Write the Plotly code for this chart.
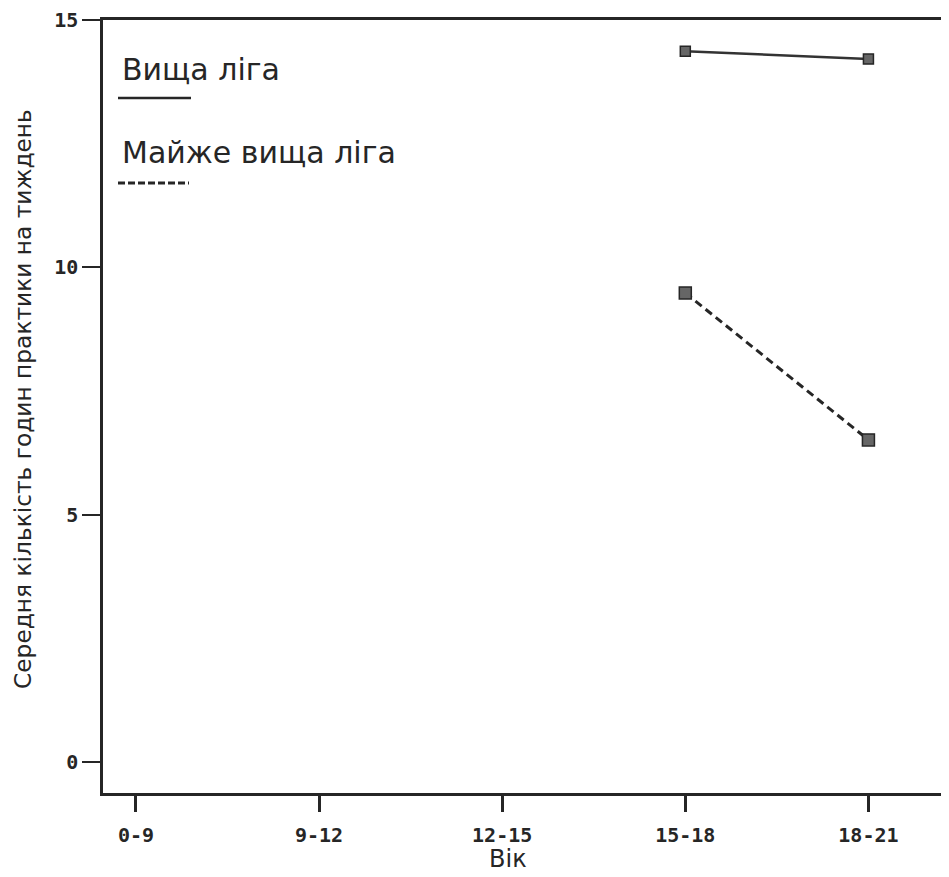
import plotly.graph_objects as go

age_groups = ["0-9", "9-12", "12-15", "15-18", "18-21"]
major_league = [None, None, None, 14.37, 14.21]
near_major_league = [None, None, None, 9.48, 6.51]

legend_labels = ["Вища ліга", "Майже вища ліга"]
x_title = "Вік"
y_title = "Середня кількість годин практики на тиждень"
y_ticks = [0, 5, 10, 15]

INK = "#262626"
OFF = 8                       # browser body margin
W, H = 949 - OFF, 877 - OFF
L, R, T, B = 103 - OFF, 0, 20 - OFF, 877 - 793

fig = go.Figure()
fig.add_trace(go.Scatter(
    x=list(range(len(age_groups))), y=major_league, mode="lines+markers",
    name=legend_labels[0], connectgaps=False,
    line=dict(color="#333333", width=2.5),
    marker=dict(symbol="square", size=10, color="#666666",
                line=dict(color=INK, width=1.5)),
    showlegend=False,
))
fig.add_trace(go.Scatter(
    x=list(range(len(age_groups))), y=near_major_league, mode="lines+markers",
    name=legend_labels[1], connectgaps=False,
    line=dict(color=INK, width=3, dash="8px,5px"),
    marker=dict(symbol="square", size=12, color="#666666",
                line=dict(color=INK, width=1.5)),
    showlegend=False,
))

# page pixel -> paper coordinates
def px(xp):
    return (xp - OFF - L) / (W - L - R)

def py(yp):
    return 1 - (yp - OFF - T) / (H - T - B)

legend_font = dict(family="DejaVu Sans", size=30, color=INK)
fig.add_annotation(x=px(120), y=py(70), xref="paper", yref="paper",
                   text=legend_labels[0], showarrow=False, xanchor="left", yanchor="middle",
                   font=legend_font)
fig.add_shape(type="line", xref="paper", yref="paper",
              x0=px(118), x1=px(191), y0=py(98), y1=py(98),
              line=dict(color=INK, width=2.5))
fig.add_annotation(x=px(120), y=py(152), xref="paper", yref="paper",
                   text=legend_labels[1], showarrow=False, xanchor="left", yanchor="middle",
                   font=legend_font)
fig.add_shape(type="line", xref="paper", yref="paper",
              x0=px(118), x1=px(189), y0=py(183), y1=py(183),
              line=dict(color=INK, width=3, dash="7px,3px"))

# axis titles
fig.add_annotation(x=px(508), y=py(859), xref="paper", yref="paper",
                   text=x_title, showarrow=False, xanchor="center", yanchor="middle",
                   font=dict(family="DejaVu Sans", size=24, color=INK))
fig.add_annotation(x=px(22), y=py(399), xref="paper", yref="paper",
                   text=y_title, showarrow=False, xanchor="center", yanchor="middle",
                   textangle=-90,
                   font=dict(family="DejaVu Sans", size=23.3, color=INK))

tick_font = dict(family="DejaVu Sans Mono", size=20, color=INK, weight="bold")

fig.update_layout(
    width=W, height=H,
    margin=dict(l=L, r=R, t=T, b=B, pad=0),
    plot_bgcolor="white", paper_bgcolor="white",
    xaxis=dict(
        range=[-0.18, 4.44], tickmode="array",
        tickvals=list(range(len(age_groups))), ticktext=age_groups,
        showgrid=False, zeroline=False,
        showline=True, linecolor=INK, linewidth=3, mirror=True,
        ticks="outside", ticklen=16, tickwidth=2.5, tickcolor=INK,
        ticklabelstandoff=6,
        tickfont=tick_font,
    ),
    yaxis=dict(
        range=[-0.63, 15.0], tickmode="array", tickvals=y_ticks,
        showgrid=False, zeroline=False,
        showline=True, linecolor=INK, linewidth=2.5,
        ticks="outside", ticklen=18, tickwidth=2, tickcolor=INK,
        tickfont=tick_font,
    ),
)

fig.write_html("out.html")
